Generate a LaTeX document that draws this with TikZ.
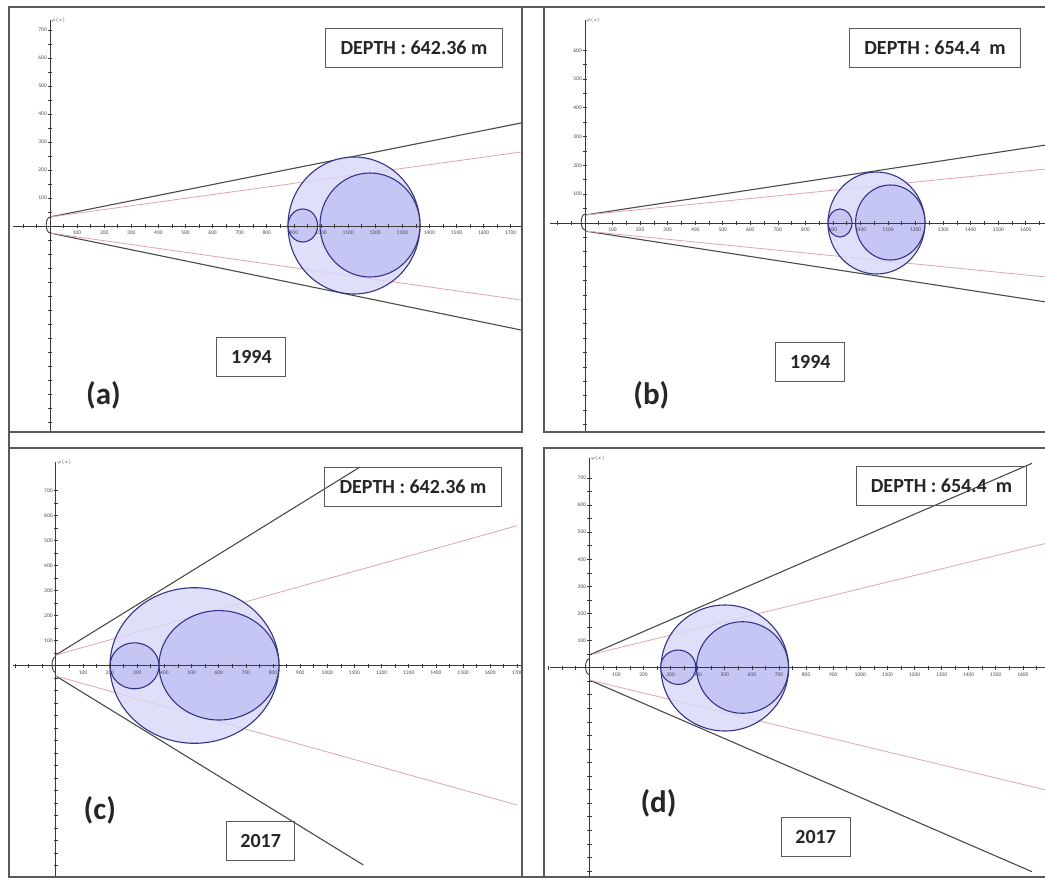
\documentclass[tikz,border=0pt]{standalone}
\usepackage{fontspec}
\setmainfont{Carlito}
\definecolor{framec}{HTML}{5A5A5A}
\definecolor{conec}{HTML}{4A4A4A}
\definecolor{pinkc}{HTML}{E3A3B3}
\definecolor{circedge}{HTML}{34348A}
\definecolor{bigfill}{HTML}{D8D8F8}
\definecolor{medfill}{HTML}{C0C0F3}
\definecolor{axisc}{HTML}{3A3A3A}
\definecolor{labc}{HTML}{4A4A5A}
\tikzset{
 panelframe/.style={draw=framec, line width=1.3pt},
 infobox/.style={draw=framec, line width=1pt, font=\bfseries\fontsize{20}{24}\selectfont, inner sep=0pt, minimum height=39pt, text=black!85},
 panellabel/.style={font=\bfseries\fontsize{31}{36}\selectfont, inner sep=0pt, text=black!85},
 coneline/.style={draw=conec, line width=1.1pt},
 pinkline/.style={draw=pinkc, line width=0.8pt},
 bigc/.style={draw=circedge, line width=1.1pt, fill=bigfill, fill opacity=0.8},
 medc/.style={draw=circedge, line width=1.1pt, fill=medfill, fill opacity=0.8},
 axisline/.style={draw=axisc, line width=0.9pt},
 tickline/.style={draw=axisc, line width=0.7pt},
 xlab/.style={font=\fontsize{5.5}{6}\selectfont, text=labc, inner sep=0pt},
 ylab/.style={font=\fontsize{5.5}{6}\selectfont, text=labc, inner sep=0pt, anchor=east},
}
% #1 ox #2 oy #3 spx #4 spy #5 ytop #6 n ylabels #7 xleft #8 prefix #9 n xlabels
\newcommand{\myaxes}[9]{%
 \draw[axisline] (#7,#2) -- (1050,#2);
 \draw[axisline] (#1,#5) -- (#1,880);
 \foreach \k in {-6,...,38} {\draw[tickline] ({#1+(\k)*#3/2},{#2-2.2}) -- ({#1+(\k)*#3/2},{#2+2.2});}
 \pgfmathtruncatemacro\mytop{2*#6}
 \foreach \k in {-34,...,\mytop} {\draw[tickline] ({#1-2.2},{#2-(\k)*#4/2}) -- ({#1+2.2},{#2-(\k)*#4/2});}
 \foreach \k in {1,...,#9} {\pgfmathtruncatemacro\lab{\k*100}\node[xlab] (#8x\k) at ({#1+(\k)*#3},{#2+7}) {\lab};}
 \foreach \k in {1,...,#6} {\pgfmathtruncatemacro\lab{\k*100}\node[ylab] (#8y\k) at ({#1-3},{#2-(\k)*#4}) {\lab};}
 \node[xlab, anchor=south west] (#8phi) at ({#1+1},{#5+3}) {$\varphi(x)$};
 \draw[axisline] (#1,{#2-9}) .. controls ({#1-5},{#2-8}) and ({#1-5},{#2+6}) .. (#1,{#2+7});
}
\begin{document}
\begin{tikzpicture}[x=1pt,y=-1pt]
\clip (0,0) rectangle (1045,878);
\fill[white] (0,0) rectangle (1045,878);
% ---------- panel (a)
\begin{scope}
\clip (9.5,7.5) rectangle (521.5,431.5);
\draw[coneline] (50,217) -- (521,123);
\draw[coneline] (50,233) -- (521,330);
\draw[pinkline] (50,217) -- (521,152);
\draw[pinkline] (50,233) -- (521,300);
\draw[bigc] (354,225.5) ellipse [x radius=66pt, y radius=68.5pt];
\draw[medc] (370,225) ellipse [x radius=50pt, y radius=52pt];
\draw[medc] (302.8,225.5) ellipse [x radius=14.8pt, y radius=16.5pt];
\myaxes{50}{226}{27.1}{28}{20}{7}{13}{pa}{17}
\end{scope}
\node[infobox, minimum width=177pt] (depa) at (414,47.5) {DEPTH : 642.36 m};
\node[infobox, minimum width=69pt] (yeara) at (251.4,356.5) {1994};
\node[panellabel] (laba) at (103.4,395) {(a)};
% ---------- panel (b)
\begin{scope}
\clip (544.5,7.5) rectangle (1046,431.5);
\draw[coneline] (585,215) -- (1046,145);
\draw[coneline] (585,231) -- (1046,302);
\draw[pinkline] (585,215) -- (1046,169);
\draw[pinkline] (585,231) -- (1046,277);
\draw[bigc] (876.5,223) ellipse [x radius=48.5pt, y radius=51pt];
\draw[medc] (890.3,222.5) ellipse [x radius=34.7pt, y radius=37.5pt];
\draw[medc] (840,223) ellipse [x radius=12pt, y radius=14pt];
\myaxes{585}{223}{27.55}{28.8}{20}{6}{550}{pb}{16}
\end{scope}
\node[infobox, minimum width=171pt] (depb) at (935,47.5) {DEPTH : 654.4\ \ m};
\node[infobox, minimum width=69pt] (yearb) at (810.3,362) {1994};
\node[panellabel] (labb) at (651.3,395) {(b)};
% ---------- panel (c)
\begin{scope}
\clip (9.5,448.5) rectangle (521.5,876.5);
\draw[coneline] (55.8,655) -- (360,467);
\draw[coneline] (55.8,676) -- (363.4,865);
\draw[pinkline] (55.8,655) -- (517,525.7);
\draw[pinkline] (55.8,676) -- (517,805);
\draw[bigc] (194.5,665.5) ellipse [x radius=84.5pt, y radius=77.8pt];
\draw[medc] (219,665.3) ellipse [x radius=60pt, y radius=54.7pt];
\draw[medc] (134.5,665.8) ellipse [x radius=24.5pt, y radius=23pt];
\myaxes{55.8}{665.7}{27.15}{25}{462}{7}{13}{pc}{17}
\end{scope}
\node[infobox, minimum width=177pt] (depc) at (413,487) {DEPTH : 642.36 m};
\node[infobox, minimum width=68.5pt] (yearc) at (260.7,841.3) {2017};
\node[panellabel] (labc) at (99.8,810.5) {(c)};
% ---------- panel (d)
\begin{scope}
\clip (544.5,448.5) rectangle (1046,876.5);
\draw[coneline] (589.3,655) -- (1032,463.3);
\draw[coneline] (589.3,680) -- (1032,871.7);
\draw[pinkline] (589.3,655) -- (1046,543.3);
\draw[pinkline] (589.3,680) -- (1046,790);
\draw[bigc] (724.8,668) ellipse [x radius=63.8pt, y radius=63pt];
\draw[medc] (742.5,667.5) ellipse [x radius=46pt, y radius=45.8pt];
\draw[medc] (678.2,667.2) ellipse [x radius=17.6pt, y radius=17.2pt];
\myaxes{589.3}{667.7}{27.1}{27.1}{458}{7}{550}{pd}{16}
\end{scope}
\node[infobox, minimum width=170pt] (depd) at (941.5,486.2) {DEPTH : 654.4\ \ m};
\node[infobox, minimum width=69.4pt] (yeard) at (815.7,836.7) {2017};
\node[panellabel] (labd) at (658.5,803.3) {(d)};
% ---------- frames
\draw[panelframe] (9,7) rectangle (522,432);
\draw[panelframe] (544,7) rectangle (1050,432);
\draw[panelframe] (9,448) rectangle (522,877);
\draw[panelframe] (544,448) rectangle (1050,877);
\draw[panelframe] (522,7) -- (544,7);
\draw[panelframe] (522,877) -- (544,877);
\draw[panelframe] (9,432) -- (9,448);
\end{tikzpicture}
\end{document}
